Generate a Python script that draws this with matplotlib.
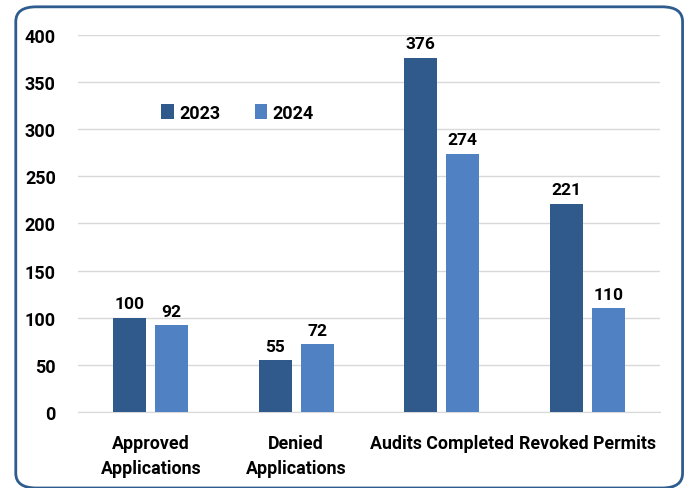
import numpy as np
import matplotlib.pyplot as plt
from matplotlib.patches import FancyBboxPatch

# data
categories = ['Approved\nApplications', 'Denied\nApplications', 'Audits Completed', 'Revoked Permits']
years = ['2023', '2024']
values_2023 = [100, 55, 376, 221]
values_2024 = [92, 72, 274, 110]

plt.rcParams['font.family'] = ['Roboto', 'DejaVu Sans']

fig = plt.figure(figsize=(6.86, 4.89), dpi=100)
ax = fig.add_axes([0.1137, 0.1554, 0.8483, 0.7710])

# rounded frame around the whole chart
frame = FancyBboxPatch((0.023, 0.0), 0.972, 0.984, boxstyle='round,pad=0,rounding_size=0.03',
                       transform=fig.transFigure, facecolor='none', edgecolor='#2E5C8E',
                       linewidth=2, zorder=0)
fig.patches.append(frame)

x = np.arange(len(categories))
w = 0.227
off = 0.144
c23 = '#305A8C'
c24 = '#4F81C3'
b1 = ax.bar(x - off, values_2023, w, color=c23, label=years[0], zorder=3)
b2 = ax.bar(x + off, values_2024, w, color=c24, label=years[1], zorder=3)

for bars in (b1, b2):
    for b in bars:
        ax.text(b.get_x() + b.get_width() / 2, b.get_height() + 7, f'{b.get_height():.0f}',
                ha='center', va='bottom', fontsize=12.5, fontweight='bold')

ax.set_xlim(-0.5, 3.5)
ax.set_ylim(0, 400)
ax.set_yticks(range(0, 401, 50))
ax.set_xticks(x)
ax.set_xticklabels(categories, fontsize=12.8, fontweight='bold', linespacing=1.45)
for lbl in ax.get_yticklabels():
    lbl.set_fontweight('bold')
    lbl.set_fontsize(13)
ax.tick_params(axis='both', length=0)
ax.tick_params(axis='y', pad=16)
ax.tick_params(axis='x', pad=16)
ax.grid(axis='y', color='#D9D9D9', linewidth=1, zorder=0)
for s in ['top', 'right', 'left']:
    ax.spines[s].set_visible(False)
ax.spines['bottom'].set_color('#D9D9D9')

ax.legend(loc='upper left', bbox_to_anchor=(0.115, 0.86), ncol=2, frameon=False,
          prop={'weight': 'bold', 'size': 13}, handlelength=0.7, handleheight=0.9,
          columnspacing=1.9, handletextpad=0.3)

plt.savefig('out.png', dpi=100)
